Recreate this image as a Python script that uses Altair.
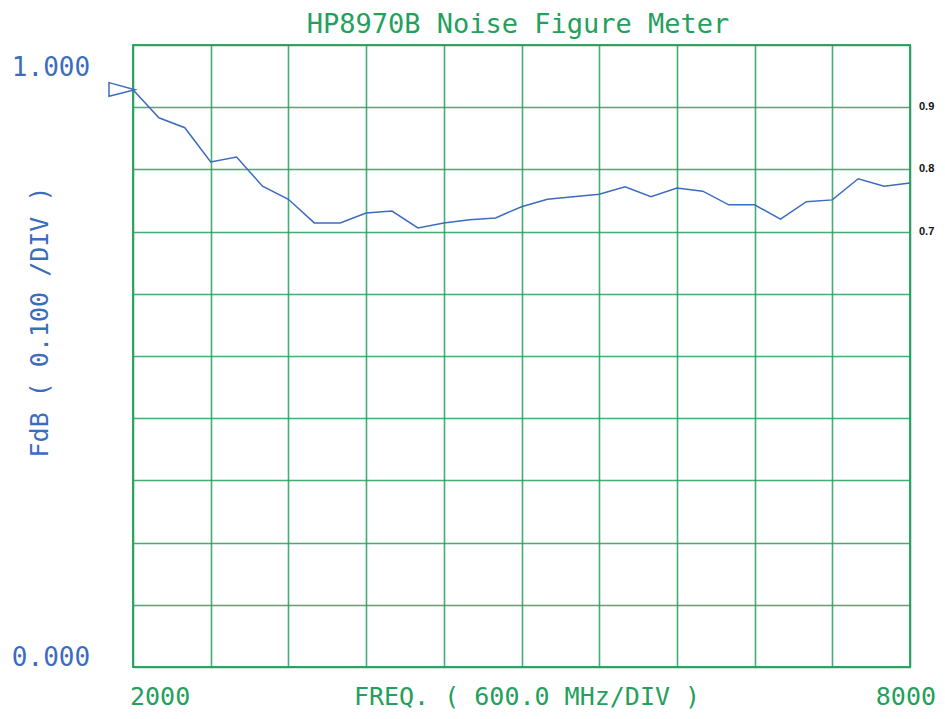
import altair as alt
import pandas as pd

# ---- data ----
freq_mhz = [2000, 2200, 2400, 2600, 2800, 3000, 3200, 3400, 3600, 3800,
            4000, 4200, 4400, 4600, 4800, 5000, 5200, 5400, 5600, 5800,
            6000, 6200, 6400, 6600, 6800, 7000, 7200, 7400, 7600, 7800, 8000]
fdb = [0.928, 0.883, 0.867, 0.812, 0.820, 0.773, 0.752, 0.714, 0.714, 0.730,
       0.733, 0.706, 0.714, 0.719, 0.722, 0.740, 0.752, 0.756, 0.760, 0.772,
       0.756, 0.770, 0.765, 0.743, 0.743, 0.720, 0.748, 0.751, 0.785, 0.773, 0.778]

x_grid = [2000, 2600, 3200, 3800, 4400, 5000, 5600, 6200, 6800, 7400, 8000]
y_grid = [0.0, 0.1, 0.2, 0.3, 0.4, 0.5, 0.6, 0.7, 0.8, 0.9, 1.0]
side_marks = ["0.9", "0.8", "0.7"]
side_vals = [0.9, 0.8, 0.7]

GREEN = "#23a05c"
BLUE = "#3b6cc0"
FONT = "DejaVu Sans Mono"

df = pd.DataFrame({"freq": freq_mhz, "fdb": fdb})

xs = alt.Scale(domain=[2000, 8000], nice=False, zero=False)
ys = alt.Scale(domain=[0, 1], nice=False, zero=False)

base = alt.Chart(df)

line = base.mark_line(color=BLUE, strokeWidth=1.5, clip=False).encode(
    x=alt.X("freq:Q", scale=xs,
            axis=alt.Axis(values=x_grid, grid=True, labels=False, ticks=False,
                          domain=False, title=None, gridColor=GREEN,
                          gridWidth=1.6, gridOpacity=0.85)),
    y=alt.Y("fdb:Q", scale=ys,
            axis=alt.Axis(values=y_grid, grid=True, labels=False, ticks=False,
                          domain=False, title=None, gridColor=GREEN,
                          gridWidth=1.6, gridOpacity=0.85)),
)

marker = alt.Chart(df.head(1)).mark_point(
    shape="M -1 -0.55 L 1 0 L -1 0.5 Z", filled=False, color=BLUE,
    strokeWidth=1.5, size=676, opacity=1
).encode(x=alt.value(-11), y=alt.Y("fdb:Q", scale=ys))

def label(text, color, size, **kw):
    return alt.Chart(pd.DataFrame({"t": [text]})).mark_text(
        text=text, color=color, font=FONT, fontSize=size, **kw)

title = label("HP8970B Noise Figure Meter", GREEN, 27, baseline="middle",
              align="center").encode(x=alt.value(385), y=alt.value(-20))

ylab_top = label("1.000", BLUE, 26, baseline="middle", align="center", dy=23).encode(
    x=alt.value(-82), y=alt.datum(1.0, scale=ys))
ylab_bot = label("0.000", BLUE, 26, baseline="middle", align="center", dy=-9).encode(
    x=alt.value(-82), y=alt.datum(0.0, scale=ys))
ytitle = label("FdB ( 0.100 /DIV )", BLUE, 25, baseline="middle", align="center",
               angle=270).encode(x=alt.value(-93), y=alt.value(277))

xlab_l = label("2000", GREEN, 25, baseline="middle", align="left", dx=-3).encode(
    x=alt.datum(2000, scale=xs), y=alt.value(652))
xlab_r = label("8000", GREEN, 25, baseline="middle", align="right", dx=26).encode(
    x=alt.datum(8000, scale=xs), y=alt.value(652))
xtitle = label("FREQ. ( 600.0 MHz/DIV )", GREEN, 25, baseline="middle",
               align="center").encode(x=alt.value(394), y=alt.value(652))

side = alt.Chart(pd.DataFrame({"t": side_marks, "v": side_vals})).mark_text(
    font="Liberation Sans", fontWeight="bold", fontSize=11, color="#111111",
    align="left", baseline="middle"
).encode(x=alt.value(786), y=alt.Y("v:Q", scale=ys), text="t:N")

chart = alt.layer(
    line, marker, title, ylab_top, ylab_bot, ytitle, xlab_l, xlab_r, xtitle, side
).properties(
    width=777, height=622,
    autosize=alt.AutoSizeParams(type="none"),
    padding={"left": 125, "top": 37, "right": 27, "bottom": 44},
    background="white",
).configure_view(stroke=GREEN, strokeWidth=2, strokeOpacity=0.9)

chart.save("out.html", embed_options={"renderer": "svg", "actions": False})
